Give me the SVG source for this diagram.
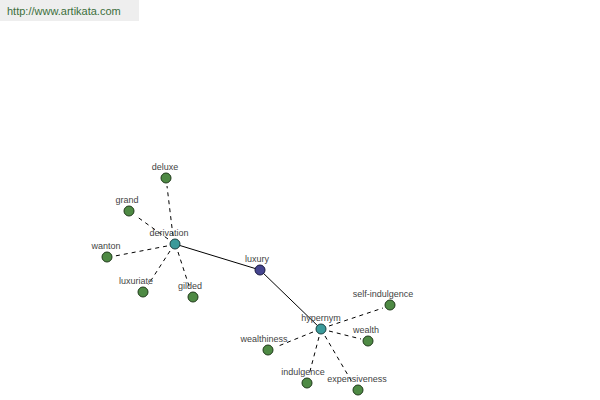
<svg xmlns="http://www.w3.org/2000/svg" width="600" height="400" viewBox="0 0 600 400">
<style>
text{font-family:"Liberation Sans",Arial,sans-serif;font-size:9px;fill:#444;text-anchor:middle}
.d{stroke:#000;stroke-width:1;stroke-dasharray:4,4;fill:none}
.s{stroke:#000;stroke-width:1;fill:none}
.leaf{fill:#4e8a44;stroke:#1f3a1a;stroke-width:1}
.hub{fill:#3a9a9a;stroke:#1a4040;stroke-width:1}
.root{fill:#45458f;stroke:#1a1a40;stroke-width:1}
</style>
<rect x="0" y="0" width="139" height="21" fill="#eeeeee"/>
<text x="7" y="15" style="text-anchor:start;font-size:11px;fill:#3c6e3c">http://www.artikata.com</text>
<g id="connectors">
<line class="s" x1="175" y1="244" x2="260" y2="270"/>
<line class="s" x1="260" y1="270" x2="321" y2="329"/>
<line class="d" x1="173" y1="236" x2="167" y2="186"/>
<line class="d" x1="168" y1="239" x2="136" y2="216"/>
<line class="d" x1="167" y1="246" x2="115" y2="256"/>
<line class="d" x1="170" y1="251" x2="148" y2="285"/>
<line class="d" x1="178" y1="252" x2="190" y2="289"/>
<line class="d" x1="329" y1="326" x2="383" y2="308"/>
<line class="d" x1="329" y1="331" x2="361" y2="339"/>
<line class="d" x1="313" y1="332" x2="276" y2="347"/>
<line class="d" x1="319" y1="337" x2="309" y2="375"/>
<line class="d" x1="325" y1="336" x2="352" y2="382"/>
</g>
<g id="luxury"><circle class="root" cx="260" cy="270" r="5"/><text x="257" y="262">luxury</text></g>
<g id="derivation"><circle class="hub" cx="175" cy="244" r="5"/><text x="169" y="236">derivation</text></g>
<g id="hypernym"><circle class="hub" cx="321" cy="329" r="5"/><text x="321" y="321">hypernym</text></g>
<g id="deluxe"><circle class="leaf" cx="166" cy="178" r="5"/><text x="165" y="170">deluxe</text></g>
<g id="grand"><circle class="leaf" cx="129" cy="211" r="5"/><text x="127" y="203">grand</text></g>
<g id="wanton"><circle class="leaf" cx="107" cy="257" r="5"/><text x="106" y="249">wanton</text></g>
<g id="luxuriate"><circle class="leaf" cx="143" cy="292" r="5"/><text x="136" y="284">luxuriate</text></g>
<g id="gilded"><circle class="leaf" cx="193" cy="297" r="5"/><text x="190" y="289">gilded</text></g>
<g id="self-indulgence"><circle class="leaf" cx="390" cy="305" r="5"/><text x="383" y="297">self-indulgence</text></g>
<g id="wealth"><circle class="leaf" cx="368" cy="341" r="5"/><text x="366" y="333">wealth</text></g>
<g id="wealthiness"><circle class="leaf" cx="268" cy="350" r="5"/><text x="264" y="342">wealthiness</text></g>
<g id="indulgence"><circle class="leaf" cx="307" cy="383" r="5"/><text x="303" y="375">indulgence</text></g>
<g id="expensiveness"><circle class="leaf" cx="358" cy="390" r="5"/><text x="357" y="382">expensiveness</text></g>
</svg>
